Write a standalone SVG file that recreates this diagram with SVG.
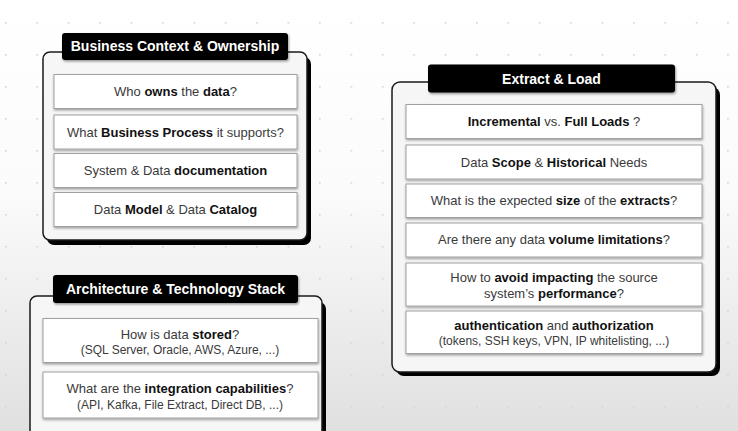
<svg xmlns="http://www.w3.org/2000/svg" width="738" height="431" viewBox="0 0 738 431">
<defs>
<linearGradient id="bg" x1="0" y1="0" x2="0" y2="1">
<stop offset="0" stop-color="#ffffff"/>
<stop offset="0.45" stop-color="#fbfbfb"/>
<stop offset="1" stop-color="#e0e0e0"/>
</linearGradient>
<pattern id="dots" x="5" y="22" width="31.4" height="32" patternUnits="userSpaceOnUse">
<circle cx="0.8" cy="0.8" r="1" fill="#d6d6d6"/>
</pattern>
<filter id="sh" x="-10%" y="-20%" width="120%" height="150%">
<feDropShadow dx="0.5" dy="1.5" stdDeviation="1" flood-color="#000" flood-opacity="0.35"/>
</filter>
<filter id="tsh" x="-10%" y="-20%" width="120%" height="150%">
<feDropShadow dx="1" dy="1.5" stdDeviation="1.2" flood-color="#000" flood-opacity="0.4"/>
</filter>
</defs>
<style>
.cont{fill:#f6f6f6;stroke:#1a1a1a;stroke-width:1.5}
.csh{fill:#000}
.tab{fill:#000;filter:url(#tsh)}
.ttl{font-family:"Liberation Sans",Arial,sans-serif;font-size:14px;font-weight:bold;fill:#fff;text-anchor:middle}
.box{fill:#fff;stroke:#a0a0a0;stroke-width:1;filter:url(#sh)}
.t{font-family:"Liberation Sans",Arial,sans-serif;font-size:13px;fill:#3a3a3a;text-anchor:middle}
.s{font-size:12px}
.b{font-weight:bold;fill:#111}
</style>
<rect width="738" height="431" fill="url(#bg)"/>
<rect width="738" height="431" fill="url(#dots)"/>

<g id="business-context">
<rect class="csh" x="47" y="57" width="264" height="188" rx="7"/>
<rect class="cont" x="43" y="52" width="264" height="188" rx="7"/>
<rect class="tab" x="62" y="33" width="226" height="27" rx="3"/>
<text class="ttl" x="175" y="51">Business Context &amp; Ownership</text>
<rect class="box" x="54" y="74.5" width="243" height="34"/>
<text class="t" x="175.5" y="96">Who <tspan class="b">owns</tspan> the <tspan class="b">data</tspan>?</text>
<rect class="box" x="54" y="115" width="243" height="34"/>
<text class="t" x="175.5" y="136.5">What <tspan class="b">Business Process</tspan> it supports?</text>
<rect class="box" x="54" y="153.5" width="243" height="34"/>
<text class="t" x="175.5" y="175">System &amp; Data <tspan class="b">documentation</tspan></text>
<rect class="box" x="54" y="192.5" width="243" height="34"/>
<text class="t" x="175.5" y="214">Data <tspan class="b">Model</tspan> &amp; Data <tspan class="b">Catalog</tspan></text>
</g>

<g id="architecture">
<rect class="csh" x="34" y="302" width="292" height="160" rx="7"/>
<rect class="cont" x="30" y="296" width="292" height="160" rx="7"/>
<rect class="tab" x="53" y="275" width="245" height="28" rx="3"/>
<text class="ttl" x="175.5" y="294">Architecture &amp; Technology Stack</text>
<rect class="box" x="43" y="318.5" width="275" height="44"/>
<text class="t" x="180" y="338.5">How is data <tspan class="b">stored</tspan>?</text>
<text class="t s" x="180" y="354">(SQL Server, Oracle, AWS, Azure, ...)</text>
<rect class="box" x="43" y="372" width="275" height="46"/>
<text class="t" x="180" y="393">What are the <tspan class="b">integration capabilities</tspan>?</text>
<text class="t s" x="180" y="408.5">(API, Kafka, File Extract, Direct DB, ...)</text>
</g>

<g id="extract-load">
<rect class="csh" x="396" y="87" width="324" height="289" rx="8"/>
<rect class="cont" x="392" y="82" width="324" height="290" rx="8"/>
<rect class="tab" x="428" y="64.5" width="247" height="28" rx="3"/>
<text class="ttl" x="551.5" y="83.5">Extract &amp; Load</text>
<rect class="box" x="406" y="104.5" width="296" height="34"/>
<text class="t" x="554" y="126"><tspan class="b">Incremental</tspan> vs. <tspan class="b">Full Loads</tspan> ?</text>
<rect class="box" x="406" y="145" width="296" height="34"/>
<text class="t" x="554" y="166.5">Data <tspan class="b">Scope</tspan> &amp; <tspan class="b">Historical</tspan> Needs</text>
<rect class="box" x="406" y="184" width="296" height="33.5"/>
<text class="t" x="554" y="205">What is the expected <tspan class="b">size</tspan> of the <tspan class="b">extracts</tspan>?</text>
<rect class="box" x="406" y="223" width="296" height="34"/>
<text class="t" x="554" y="244">Are there any data <tspan class="b">volume limitations</tspan>?</text>
<rect class="box" x="406" y="263" width="296" height="43"/>
<text class="t" x="554" y="282">How to <tspan class="b">avoid impacting</tspan> the source</text>
<text class="t" x="554" y="297.5">system’s <tspan class="b">performance</tspan>?</text>
<rect class="box" x="406" y="311" width="296" height="42.5"/>
<text class="t" x="554" y="330"><tspan class="b">authentication</tspan> and <tspan class="b">authorization</tspan></text>
<text class="t s" x="554" y="344.5">(tokens, SSH keys, VPN, IP whitelisting, ...)</text>
</g>
</svg>
